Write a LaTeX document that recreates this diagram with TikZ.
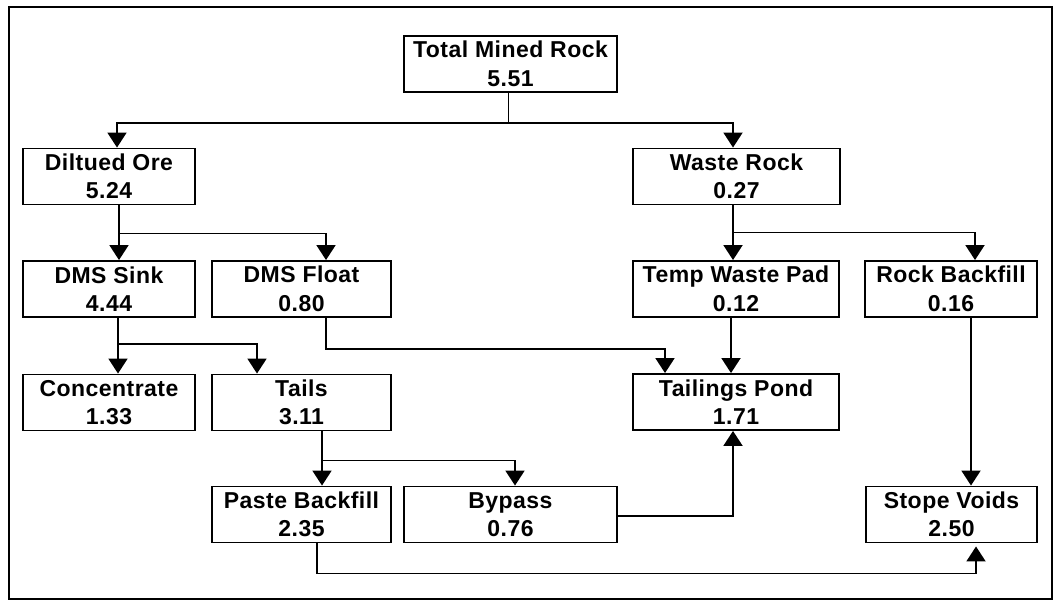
\documentclass[tikz,border=0pt]{standalone}
\usepackage{fontspec}
\setmainfont{Liberation Sans}
\usetikzlibrary{arrows.meta}
\begin{document}
\begin{tikzpicture}[x=1pt,y=-1pt,
  box/.style={draw, line width=1.9pt, inner sep=0pt, align=center,
    font=\fontsize{23}{28.5}\selectfont\bfseries\addfontfeature{LetterSpace=2}, minimum height=56pt},
  ln/.style={line width=1.9pt},
  arr/.style={line width=1.9pt, -{Triangle[width=19pt,length=15pt]}}]
\useasboundingbox (0,0) rectangle (1054,602);
\draw[line width=1.9pt] (9,7) rectangle (1052,599);
% nodes
\node[box, minimum width=213pt] (total)  at (510.5,64)   {Total Mined Rock\\5.51};
\node[box, minimum width=172pt] (dil)    at (109,176.5)  {Diltued Ore\\5.24};
\node[box, minimum width=207pt] (waste)  at (736.5,176.5){Waste Rock\\0.27};
\node[box, minimum width=172pt] (sink)   at (109,289)    {DMS Sink\\4.44};
\node[box, minimum width=179pt] (float)  at (301.5,289)  {DMS Float\\0.80};
\node[box, minimum width=206pt] (twp)    at (736,289)    {Temp Waste Pad\\0.12};
\node[box, minimum width=172pt] (rbf)    at (951,289)    {Rock Backfill\\0.16};
\node[box, minimum width=172pt] (conc)   at (109,402.5)  {Concentrate\\1.33};
\node[box, minimum width=179pt] (tails)  at (301.5,402.5){Tails\\3.11};
\node[box, minimum width=206pt] (pond)   at (736,402)    {Tailings Pond\\1.71};
\node[box, minimum width=179pt] (paste)  at (301.5,514.5){Paste Backfill\\2.35};
\node[box, minimum width=213pt] (bypass) at (510.5,514.5){Bypass\\0.76};
\node[box, minimum width=171pt] (stope)  at (951.5,514.5){Stope Voids\\2.50};
% connectors
\draw[ln] ([xshift=-2pt]total.south) -- ++(0,30) coordinate (j1);
\draw[arr] (j1) -| ([xshift=8pt]dil.north);
\draw[arr] (j1) -| ([xshift=-3.5pt]waste.north);
\draw[ln] ([xshift=10pt]dil.south) -- ++(0,28) coordinate (j2);
\draw[arr] (j2) -- ([xshift=10pt]sink.north);
\draw[arr] (j2) -| ([xshift=24.5pt]float.north);
\draw[ln] ([xshift=9pt]sink.south) -- ++(0,26) coordinate (j3);
\draw[arr] (j3) -- ([xshift=9pt]conc.north);
\draw[arr] (j3) -| ([xshift=-44.5pt]tails.north);
\draw[arr] ([xshift=24.5pt]float.south) |- ++(170,31) -| ([xshift=-71pt]pond.north);
\draw[ln] ([xshift=-3.5pt]waste.south) -- ++(0,27) coordinate (j4);
\draw[arr] (j4) -- ([xshift=-3pt]twp.north);
\draw[arr] (j4) -| ([xshift=24pt]rbf.north);
\draw[arr] ([xshift=-5pt]twp.south) -- ([xshift=-5pt]pond.north);
\draw[arr] ([xshift=20pt]rbf.south) -- ([xshift=19.5pt]stope.north);
\draw[ln] ([xshift=20.5pt]tails.south) -- ++(0,29) coordinate (j5);
\draw[arr] (j5) -- ([xshift=20.5pt]paste.north);
\draw[arr] (j5) -| ([xshift=4.5pt]bypass.north);
\draw[arr] ([yshift=-1.5pt]bypass.east) -| ([xshift=-3pt]pond.south);
\draw[arr, shorten >=3pt] ([xshift=15.5pt]paste.south) |- ++(300,30) -| ([xshift=24.5pt]stope.south);
\end{tikzpicture}
\end{document}
